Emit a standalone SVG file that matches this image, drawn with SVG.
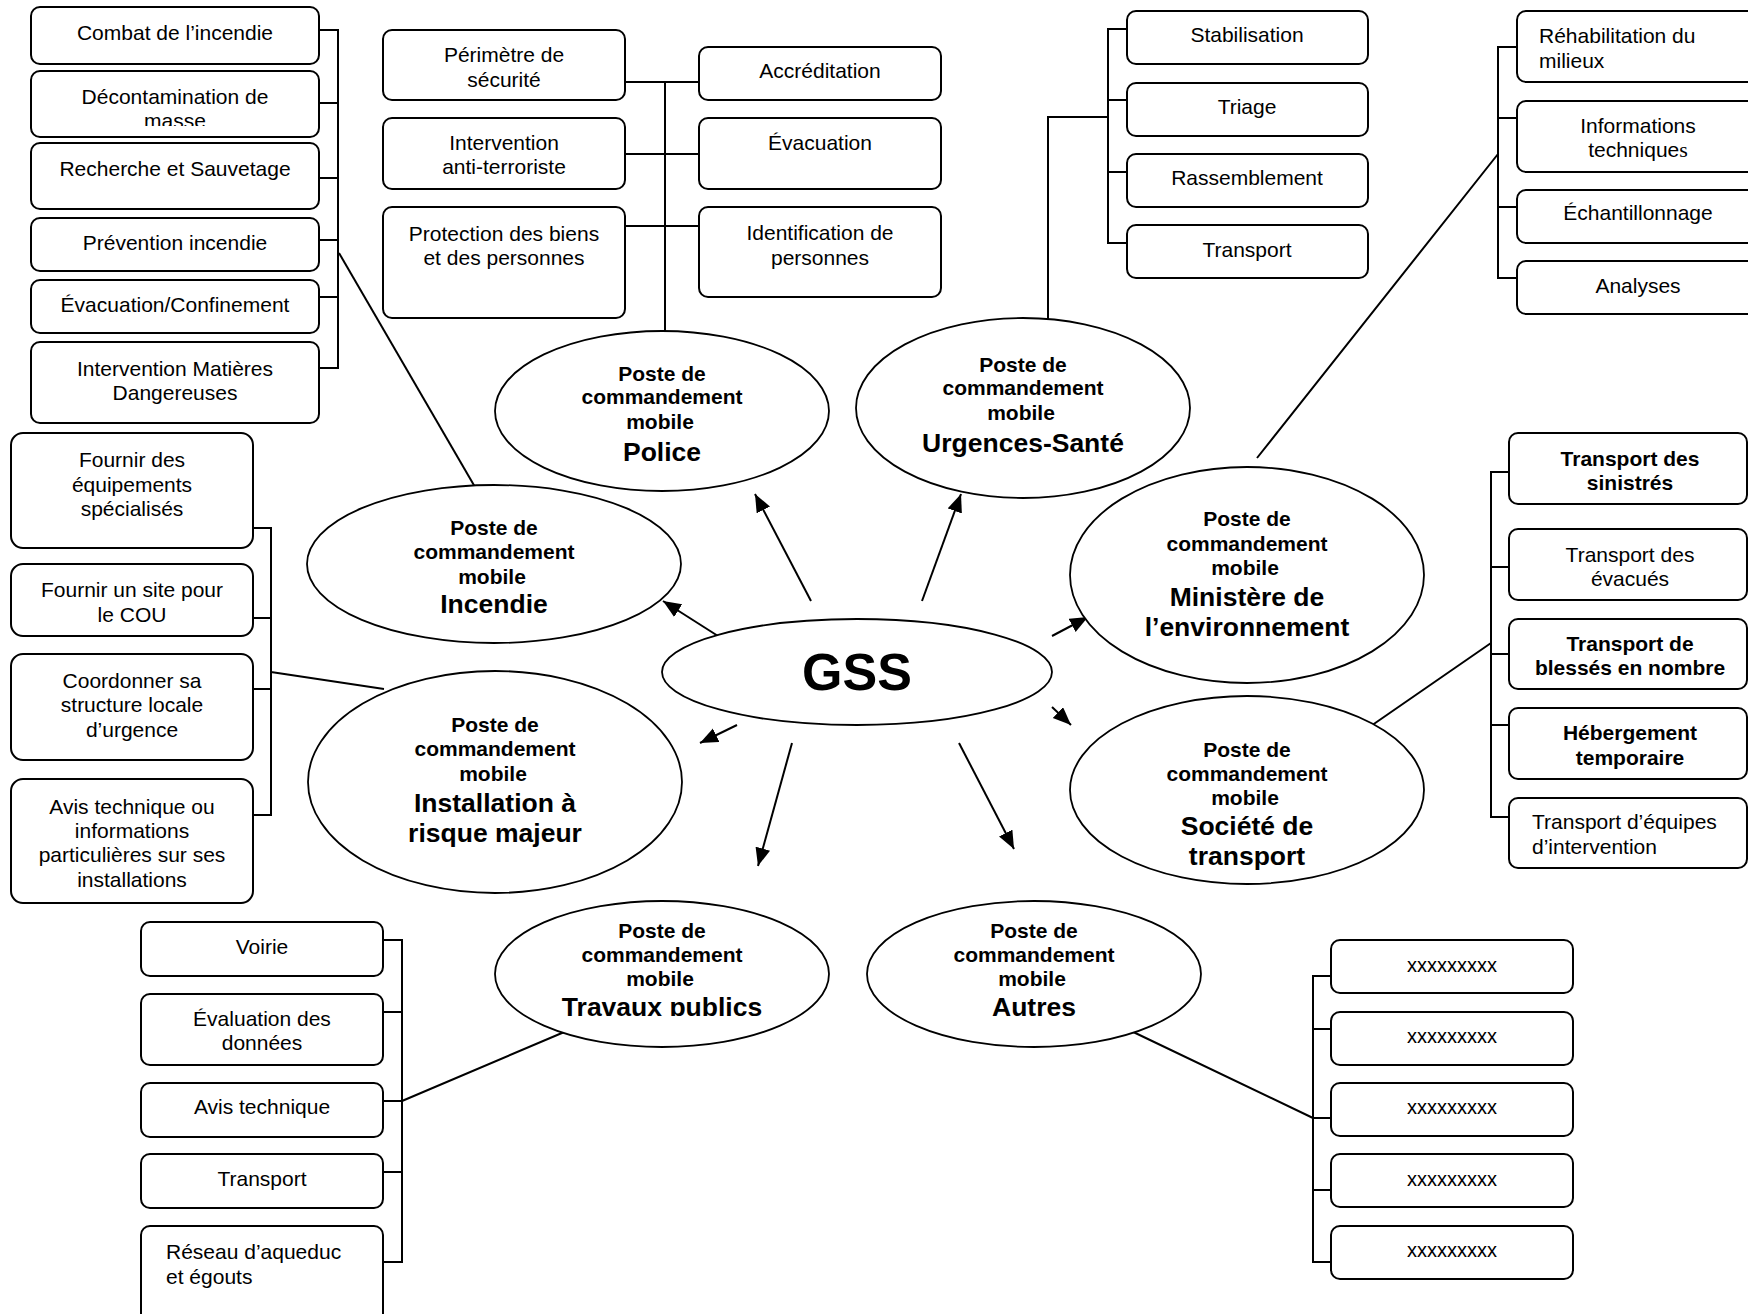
<svg xmlns="http://www.w3.org/2000/svg" width="1748" height="1314" viewBox="0 0 1748 1314">
<style>
text{font-family:"Liberation Sans",Arial,sans-serif;fill:#000}
.t{font-size:21px;text-anchor:middle}
.tl{font-size:21px;text-anchor:start}
.tb{font-size:21px;font-weight:bold;text-anchor:middle}
.big{font-size:26.5px;font-weight:bold;text-anchor:middle}
.x{font-size:20px;text-anchor:middle}
.box{fill:#fff;stroke:#000;stroke-width:2}
.ell{fill:#fff;stroke:#000;stroke-width:1.8}
.ln{fill:none;stroke:#000;stroke-width:2}
.ar{fill:none;stroke:#000;stroke-width:2;marker-end:url(#ah)}
</style>
<defs>
<marker id="ah" markerUnits="userSpaceOnUse" markerWidth="20" markerHeight="16" refX="18" refY="7.5" orient="auto">
<path d="M0,0 L18,7.5 L0,15 z" fill="#000"/>
</marker>
<clipPath id="cMasse"><rect x="31" y="71" width="288" height="55"/></clipPath>
<clipPath id="cTrav"><rect x="495" y="900" width="334" height="116"/></clipPath>
</defs>
<rect width="1748" height="1314" fill="#fff"/>

<g id="connectors">
<path class="ln" d="M319,30 H338 V368 H319 M319,103 H338 M319,178 H338 M319,240 H338 M319,297 H338"/>
<path class="ln" d="M339,253 L475,487"/>
<path class="ln" d="M665,82 V331 M625,82 H699 M625,154 H699 M625,226 H699"/>
<path class="ln" d="M1127,29 H1108 V243 H1127 M1108,100 H1127 M1108,172 H1127 M1108,117 H1048 V319"/>
<path class="ln" d="M1517,47 H1498 V278 H1517 M1498,118 H1517 M1498,207 H1517 M1498,154 L1257,458"/>
<path class="ln" d="M253,528 H271 V815 H253 M253,618 H271 M253,689 H271 M271,672 L384,689"/>
<path class="ln" d="M1509,472 H1491 V817 H1509 M1491,567 H1509 M1491,654 H1509 M1491,725 H1509 M1368,728 L1491,643"/>
<path class="ln" d="M383,940 H402 V1262 H383 M383,1012 H402 M383,1101 H402 M383,1172 H402 M402,1101 L569,1030"/>
<path class="ln" d="M1331,976 H1313 V1262 H1331 M1313,1029 H1331 M1313,1118 H1331 M1313,1190 H1331 M1127,1029 L1313,1118"/>
<path class="ar" d="M811,601 L755,494"/>
<path class="ar" d="M922,601 L961,494"/>
<path class="ar" d="M718,636 L663,601"/>
<path class="ar" d="M1052,636 L1088,617"/>
<path class="ar" d="M1052,707 L1071,725"/>
<path class="ar" d="M737,725 L700,743"/>
<path class="ar" d="M792,743 L758,866"/>
<path class="ar" d="M959,743 L1014,849"/>
</g>

<g id="gss"><ellipse class="ell" cx="857" cy="672" rx="195" ry="53"/><text x="857" y="690" style="font-size:52px;font-weight:bold;text-anchor:middle">GSS</text></g>

<g id="pcm-police"><ellipse class="ell" cx="662" cy="411" rx="167" ry="80"/>
<text class="tb" x="662" y="381">Poste de</text><text class="tb" x="662" y="404">commandement</text><text class="tb" x="660" y="429">mobile</text><text class="big" x="662" y="461">Police</text></g>

<g id="pcm-urgences"><ellipse class="ell" cx="1023" cy="408" rx="167" ry="90"/>
<text class="tb" x="1023" y="372">Poste de</text><text class="tb" x="1023" y="395">commandement</text><text class="tb" x="1021" y="420">mobile</text><text class="big" x="1023" y="452">Urgences-Santé</text></g>

<g id="pcm-incendie"><ellipse class="ell" cx="494" cy="564" rx="187" ry="79"/>
<text class="tb" x="494" y="535">Poste de</text><text class="tb" x="494" y="559">commandement</text><text class="tb" x="492" y="584">mobile</text><text class="big" x="494" y="613">Incendie</text></g>

<g id="pcm-ministere"><ellipse class="ell" cx="1247" cy="575" rx="177" ry="108"/>
<text class="tb" x="1247" y="526">Poste de</text><text class="tb" x="1247" y="551">commandement</text><text class="tb" x="1245" y="575">mobile</text><text class="big" x="1247" y="606">Ministère de</text><text class="big" x="1247" y="636">l’environnement</text></g>

<g id="pcm-installation"><ellipse class="ell" cx="495" cy="782" rx="187" ry="111"/>
<text class="tb" x="495" y="732">Poste de</text><text class="tb" x="495" y="756">commandement</text><text class="tb" x="493" y="781">mobile</text><text class="big" x="495" y="812">Installation à</text><text class="big" x="495" y="842">risque majeur</text></g>

<g id="pcm-societe"><ellipse class="ell" cx="1247" cy="790" rx="177" ry="94"/>
<text class="tb" x="1247" y="757">Poste de</text><text class="tb" x="1247" y="781">commandement</text><text class="tb" x="1245" y="805">mobile</text><text class="big" x="1247" y="835">Société de</text><text class="big" x="1247" y="865">transport</text></g>

<g id="pcm-travaux"><ellipse class="ell" cx="662" cy="974" rx="167" ry="73"/>
<text class="tb" x="662" y="938">Poste de</text><text class="tb" x="662" y="962">commandement</text><text class="tb" x="660" y="986">mobile</text><text class="big" x="662" y="1016" clip-path="url(#cTrav)">Travaux publics</text></g>

<g id="pcm-autres"><ellipse class="ell" cx="1034" cy="974" rx="167" ry="73"/>
<text class="tb" x="1034" y="938">Poste de</text><text class="tb" x="1034" y="962">commandement</text><text class="tb" x="1032" y="986">mobile</text><text class="big" x="1034" y="1016">Autres</text></g>

<g id="inc-1"><rect class="box" x="31" y="7" width="288" height="57" rx="9"/><text class="t" x="175" y="40">Combat de l’incendie</text></g>
<g id="inc-2"><rect class="box" x="31" y="71" width="288" height="66" rx="9"/><g clip-path="url(#cMasse)"><text class="t" x="175" y="104">Décontamination de</text><text class="t" x="175" y="128">masse</text></g></g>
<g id="inc-3"><rect class="box" x="31" y="143" width="288" height="66" rx="9"/><text class="t" x="175" y="176">Recherche et Sauvetage</text></g>
<g id="inc-4"><rect class="box" x="31" y="218" width="288" height="53" rx="9"/><text class="t" x="175" y="250">Prévention incendie</text></g>
<g id="inc-5"><rect class="box" x="31" y="280" width="288" height="53" rx="9"/><text class="t" x="175" y="312">Évacuation/Confinement</text></g>
<g id="inc-6"><rect class="box" x="31" y="342" width="288" height="81" rx="9"/><text class="t" x="175" y="376">Intervention Matières</text><text class="t" x="175" y="400">Dangereuses</text></g>

<g id="pol-1"><rect class="box" x="383" y="30" width="242" height="70" rx="9"/><text class="t" x="504" y="62">Périmètre de</text><text class="t" x="504" y="87">sécurité</text></g>
<g id="pol-2"><rect class="box" x="383" y="118" width="242" height="71" rx="9"/><text class="t" x="504" y="150">Intervention</text><text class="t" x="504" y="174">anti-terroriste</text></g>
<g id="pol-3"><rect class="box" x="383" y="207" width="242" height="111" rx="9"/><text class="t" x="504" y="241">Protection des biens</text><text class="t" x="504" y="265">et des personnes</text></g>
<g id="pol-4"><rect class="box" x="699" y="47" width="242" height="53" rx="9"/><text class="t" x="820" y="78">Accréditation</text></g>
<g id="pol-5"><rect class="box" x="699" y="118" width="242" height="71" rx="9"/><text class="t" x="820" y="150">Évacuation</text></g>
<g id="pol-6"><rect class="box" x="699" y="207" width="242" height="90" rx="9"/><text class="t" x="820" y="240">Identification de</text><text class="t" x="820" y="265">personnes</text></g>

<g id="urg-1"><rect class="box" x="1127" y="11" width="241" height="53" rx="9"/><text class="t" x="1247" y="42">Stabilisation</text></g>
<g id="urg-2"><rect class="box" x="1127" y="83" width="241" height="53" rx="9"/><text class="t" x="1247" y="114">Triage</text></g>
<g id="urg-3"><rect class="box" x="1127" y="154" width="241" height="53" rx="9"/><text class="t" x="1247" y="185">Rassemblement</text></g>
<g id="urg-4"><rect class="box" x="1127" y="225" width="241" height="53" rx="9"/><text class="t" x="1247" y="257">Transport</text></g>

<g id="min-1"><rect class="box" x="1517" y="11" width="250" height="71" rx="9"/><text class="tl" x="1539" y="43">Réhabilitation du</text><text class="tl" x="1539" y="68">milieux</text></g>
<g id="min-2"><rect class="box" x="1517" y="101" width="250" height="71" rx="9"/><text class="t" x="1638" y="133">Informations</text><text class="t" x="1638" y="157">technique<tspan style="font-family:'Liberation Serif',serif;font-size:22px">s</tspan></text></g>
<g id="min-3"><rect class="box" x="1517" y="190" width="250" height="53" rx="9"/><text class="t" x="1638" y="220">Échantillonnage</text></g>
<g id="min-4"><rect class="box" x="1517" y="261" width="250" height="53" rx="9"/><text class="t" x="1638" y="293">Analyses</text></g>

<g id="ins-1"><rect class="box" x="11" y="433" width="242" height="115" rx="12"/><text class="t" x="132" y="467">Fournir des</text><text class="t" x="132" y="492">équipements</text><text class="t" x="132" y="516">spécialisés</text></g>
<g id="ins-2"><rect class="box" x="11" y="564" width="242" height="72" rx="12"/><text class="t" x="132" y="597">Fournir un site pour</text><text class="t" x="132" y="622">le COU</text></g>
<g id="ins-3"><rect class="box" x="11" y="654" width="242" height="106" rx="12"/><text class="t" x="132" y="688">Coordonner sa</text><text class="t" x="132" y="712">structure locale</text><text class="t" x="132" y="737">d’urgence</text></g>
<g id="ins-4"><rect class="box" x="11" y="779" width="242" height="124" rx="12"/><text class="t" x="132" y="814">Avis technique ou</text><text class="t" x="132" y="838">informations</text><text class="t" x="132" y="862">particulières sur ses</text><text class="t" x="132" y="887">installations</text></g>

<g id="soc-1"><rect class="box" x="1509" y="433" width="238" height="71" rx="9"/><text class="tb" x="1630" y="466">Transport des</text><text class="tb" x="1630" y="490">sinistrés</text></g>
<g id="soc-2"><rect class="box" x="1509" y="529" width="238" height="71" rx="9"/><text class="t" x="1630" y="562">Transport des</text><text class="t" x="1630" y="586">évacués</text></g>
<g id="soc-3"><rect class="box" x="1509" y="619" width="238" height="70" rx="9"/><text class="tb" x="1630" y="651">Transport de</text><text class="tb" x="1630" y="675">blessés en nombre</text></g>
<g id="soc-4"><rect class="box" x="1509" y="708" width="238" height="71" rx="9"/><text class="tb" x="1630" y="740">Hébergement</text><text class="tb" x="1630" y="765">temporaire</text></g>
<g id="soc-5"><rect class="box" x="1509" y="798" width="238" height="70" rx="9"/><text class="tl" x="1532" y="829">Transport d’équipes</text><text class="tl" x="1532" y="854">d’intervention</text></g>

<g id="tp-1"><rect class="box" x="141" y="922" width="242" height="54" rx="9"/><text class="t" x="262" y="954">Voirie</text></g>
<g id="tp-2"><rect class="box" x="141" y="994" width="242" height="71" rx="9"/><text class="t" x="262" y="1026">Évaluation des</text><text class="t" x="262" y="1050">données</text></g>
<g id="tp-3"><rect class="box" x="141" y="1083" width="242" height="54" rx="9"/><text class="t" x="262" y="1114">Avis technique</text></g>
<g id="tp-4"><rect class="box" x="141" y="1154" width="242" height="54" rx="9"/><text class="t" x="262" y="1186">Transport</text></g>
<g id="tp-5"><rect class="box" x="141" y="1226" width="242" height="100" rx="9"/><text class="tl" x="166" y="1259">Réseau d’aqueduc</text><text class="tl" x="166" y="1284">et égouts</text></g>

<g id="aut-1"><rect class="box" x="1331" y="940" width="242" height="53" rx="9"/><text class="x" x="1452" y="972">xxxxxxxxx</text></g>
<g id="aut-2"><rect class="box" x="1331" y="1012" width="242" height="53" rx="9"/><text class="x" x="1452" y="1043">xxxxxxxxx</text></g>
<g id="aut-3"><rect class="box" x="1331" y="1083" width="242" height="53" rx="9"/><text class="x" x="1452" y="1114">xxxxxxxxx</text></g>
<g id="aut-4"><rect class="box" x="1331" y="1154" width="242" height="53" rx="9"/><text class="x" x="1452" y="1186">xxxxxxxxx</text></g>
<g id="aut-5"><rect class="box" x="1331" y="1226" width="242" height="53" rx="9"/><text class="x" x="1452" y="1257">xxxxxxxxx</text></g>
</svg>
